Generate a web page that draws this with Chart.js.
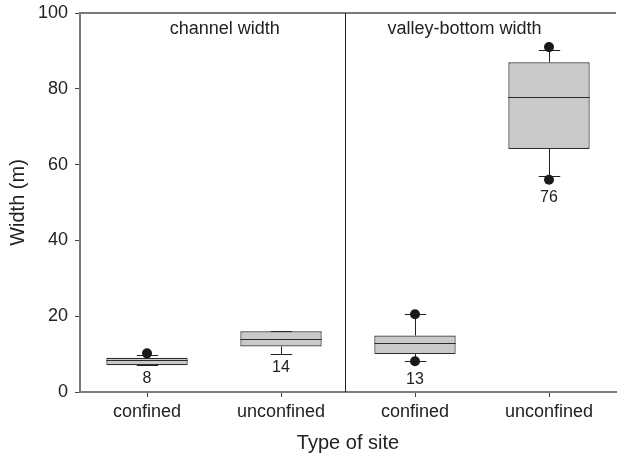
<!DOCTYPE html>
<html>
<head>
<meta charset="utf-8">
<title>Width by type of site</title>
<script src="https://cdn.jsdelivr.net/npm/chart.js@4.4.1/dist/chart.umd.min.js"></script>
<style>
    html, body { margin: 0; padding: 0; background: #fff; overflow: hidden; }
    /* the plot runs a few pixels past the right edge, so the wrapper clips it */
    #wrap { position: relative; width: 617px; height: 458px; overflow: hidden; }
    #widthChart { position: absolute; left: 0; top: 0; }
</style>
</head>
<body>
<div id="wrap"><canvas id="widthChart" width="621" height="458"></canvas></div>
<script>
// ====== Width (m) by type of site ======
const SITE_TYPES = ["confined", "unconfined", "confined", "unconfined"];
const PANEL_TITLES = ["channel width", "valley-bottom width"];
const BOX_LOW = [7.05, 12.0, 10.0, 64.1];      // 25th percentile
const BOX_MEDIAN = [8.4, 14.1, 12.9, 77.9];
const BOX_HIGH = [9.05, 16.0, 14.9, 87.0];     // 75th percentile
const WHISKER_LOW = [7.0, 10.0, 8.1, 56.9];
const WHISKER_HIGH = [9.85, 16.0, 20.5, 90.2];
const POINTS_LOW = [null, null, 8.1, 56.0];
const POINTS_HIGH = [10.2, null, 20.5, 91.0];
const MEAN_LABELS = ["8", "14", "13", "76"];

const FONT = "'Liberation Sans', Arial, Helvetica, sans-serif";
const AXIS_COLOR = '#7a7a7a';
const INK = '#222';

// ---- whiskers, medians, panel divider and labels ----
const boxDetails = {
    id: 'boxDetails',
    beforeDatasetsDraw(chart) {
        const {ctx, scales: {x, y}} = chart;
        ctx.save();
        ctx.strokeStyle = INK;
        ctx.lineWidth = 1;
        SITE_TYPES.forEach((_, i) => {
            const cx = Math.round(x.getPixelForValue(i)) + 0.5;
            const capHalf = x.getPixelForValue(i + 0.08) - x.getPixelForValue(i);
            [[BOX_LOW[i], WHISKER_LOW[i]], [BOX_HIGH[i], WHISKER_HIGH[i]]].forEach(([from, to]) => {
                const y0 = y.getPixelForValue(from);
                const y1 = Math.round(y.getPixelForValue(to)) + 0.5;
                ctx.beginPath();
                ctx.moveTo(cx, y0);
                ctx.lineTo(cx, y1);
                ctx.moveTo(cx - capHalf, y1);
                ctx.lineTo(cx + capHalf, y1);
                ctx.stroke();
            });
        });
        ctx.restore();
    },
    afterDatasetsDraw(chart) {
        const {ctx, chartArea, scales: {x, y}} = chart;
        const bars = chart.getDatasetMeta(0).data;
        ctx.save();

        // medians
        ctx.strokeStyle = '#2a2a2a';
        ctx.lineWidth = 1;
        bars.forEach((bar, i) => {
            const my = Math.round(y.getPixelForValue(BOX_MEDIAN[i])) + 0.5;
            ctx.beginPath();
            ctx.moveTo(bar.x - bar.width / 2, my);
            ctx.lineTo(bar.x + bar.width / 2, my);
            ctx.stroke();
        });

        // frame top
        ctx.strokeStyle = AXIS_COLOR;
        ctx.lineWidth = 2;
        ctx.beginPath();
        ctx.moveTo(chartArea.left - 1, chartArea.top);
        ctx.lineTo(chartArea.right, chartArea.top);
        ctx.stroke();

        // divider between the two panels
        const dx = Math.round(x.getPixelForValue(1.474)) + 0.5;
        ctx.strokeStyle = INK;
        ctx.lineWidth = 1;
        ctx.beginPath();
        ctx.moveTo(dx, chartArea.top);
        ctx.lineTo(dx, chartArea.bottom);
        ctx.stroke();

        // panel titles
        ctx.fillStyle = INK;
        ctx.font = `18px ${FONT}`;
        ctx.textAlign = 'center';
        ctx.textBaseline = 'alphabetic';
        ctx.fillText(PANEL_TITLES[0], x.getPixelForValue(0.58), chartArea.top + 21);
        ctx.fillText(PANEL_TITLES[1], x.getPixelForValue(2.37), chartArea.top + 21);

        // labels under each box
        ctx.font = `16px ${FONT}`;
        ctx.textBaseline = 'middle';
        MEAN_LABELS.forEach((txt, i) => {
            let ly = y.getPixelForValue(WHISKER_LOW[i]) + 13;
            if (POINTS_LOW[i] !== null)
                ly = Math.max(ly, y.getPixelForValue(POINTS_LOW[i]) + 18);
            ctx.fillText(txt, x.getPixelForValue(i), ly);
        });
        ctx.restore();
    }
};

const pointStyle = {
    type: 'line',
    showLine: false,
    pointRadius: 5,
    pointHoverRadius: 5,
    pointBackgroundColor: '#1a1a1a',
    pointBorderWidth: 0,
    order: 0
};

new Chart(document.getElementById('widthChart'), {
    type: 'bar',
    data: {
        labels: SITE_TYPES,
        datasets: [
            {
                label: 'box',
                data: BOX_LOW.map((v, i) => [v, BOX_HIGH[i]]),
                backgroundColor: '#c9c9c9',
                borderColor: '#2e2e2e',
                borderWidth: 1.2,
                borderSkipped: false,
                barPercentage: 0.607,
                categoryPercentage: 1,
                order: 1
            },
            Object.assign({label: 'high', data: POINTS_HIGH}, pointStyle),
            Object.assign({label: 'low', data: POINTS_LOW}, pointStyle)
        ]
    },
    options: {
        responsive: false,
        animation: false,
        layout: {padding: {top: 13, right: 0, bottom: 0, left: 0}},
        plugins: {
            legend: {display: false},
            tooltip: {enabled: false}
        },
        scales: {
            x: {
                type: 'category',
                offset: true,
                afterFit: scale => {
                    scale.height = 66;
                    scale.paddingLeft = 0;
                    scale.paddingRight = 0;
                },
                grid: {display: true, offset: false, drawOnChartArea: false, drawTicks: true, tickLength: 5, color: '#444'},
                border: {display: true, color: AXIS_COLOR, width: 2},
                ticks: {color: INK, padding: 4, font: {family: FONT, size: 18}},
                title: {display: true, text: 'Type of site', color: INK, padding: {top: 0, bottom: 3}, font: {family: FONT, size: 20}}
            },
            y: {
                min: 0,
                max: 100,
                afterFit: scale => {
                    scale.width = 80;
                    scale.paddingTop = 0;
                    scale.paddingBottom = 0;
                },
                grid: {display: true, drawOnChartArea: false, drawTicks: true, tickLength: 5, color: '#444'},
                border: {display: true, color: AXIS_COLOR, width: 2},
                ticks: {stepSize: 20, color: INK, padding: 7, font: {family: FONT, size: 18}},
                title: {display: true, text: 'Width (m)', color: INK, padding: {top: 6, bottom: 0}, font: {family: FONT, size: 20}}
            }
        }
    },
    plugins: [boxDetails]
});
</script>
</body>
</html>
